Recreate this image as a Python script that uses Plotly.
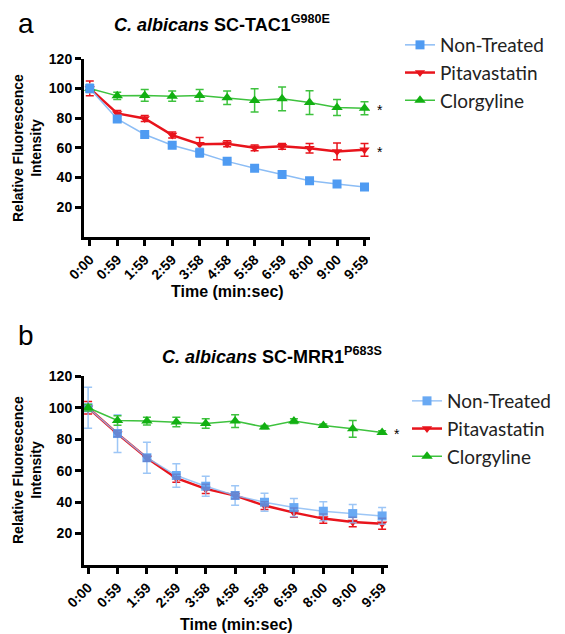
import plotly.graph_objects as go

times = ["0:00", "0:59", "1:59", "2:59", "3:58", "4:58", "5:58", "6:59", "8:00", "9:00", "9:59"]
series_names = ["Non-Treated", "Pitavastatin", "Clorgyline"]

a_non = [100, 79.5, 69, 61.8, 56.7, 50.9, 46.2, 42, 37.9, 35.6, 33.6]
a_non_err = [3, 2, 1, 1.2, 3, 1, 1, 1, 1, 1, 1]
a_pita = [100, 83.2, 79.8, 68.6, 62.5, 62.8, 60, 61, 59.7, 57.6, 58.7]
a_pita_err = [5, 2, 2, 2, 4.5, 2, 2, 2, 3.2, 5.6, 4.3]
a_clor = [100, 95, 95.3, 94.8, 95.3, 93.7, 91.9, 93, 90.5, 87.2, 86.7]
a_clor_err = [2, 2.5, 4, 3.5, 4, 4.5, 7.8, 8, 8, 5.4, 4.4]

b_non = [100, 83.6, 68.2, 56.9, 50.1, 44.2, 39.9, 36.5, 34.2, 32.7, 31.2]
b_non_err = [13, 12, 9.8, 7.5, 6.4, 6.2, 5.7, 5.8, 6, 5.8, 5.3]
b_pita = [100, 83.5, 68, 55.2, 48.4, 44.2, 37.8, 33.3, 29.5, 27.4, 26.3]
b_pita_err = [4, 2, 2, 2.5, 3, 2, 2.5, 3, 3, 3, 3.5]
b_clor = [100, 91.9, 91.5, 90.9, 90, 91.5, 87.7, 91.5, 88.7, 86.6, 84.3]
b_clor_err = [2, 3, 2.5, 3, 3, 4, 1, 1.5, 1, 5.3, 1]

y_ticks = [20, 40, 60, 80, 100, 120]

BLUE = "#4F9BF2"
BLUE_L = "#8CBDF5"
RED = "#E8141C"
GREEN = "#12B012"
GREEN_L = "#3EC23E"

W, H = 565, 634
def px(x): return x / W
def py(y): return 1 - y / H

fig = go.Figure()

def add_series(name, y, err, xa, ya, legend, style, rank, opacity=1.0):
    color, lcolor, lw, sym, msize = style
    fig.add_trace(go.Scatter(
        x=times, y=y, name=name, mode="lines+markers",
        xaxis=xa, yaxis=ya, legend=legend, legendrank=rank,
        opacity=opacity,
        line=dict(color=lcolor, width=lw),
        marker=dict(color=color, symbol=sym, size=msize, line=dict(width=0)),
        error_y=dict(type="data", array=err, visible=True, color=lcolor,
                     thickness=1.5, width=4),
    ))

st_non = (BLUE, BLUE_L, 1.5, "square", 9)
st_pita = (RED, RED, 2.5, "triangle-down", 9)
st_clor = (GREEN, GREEN_L, 1.5, "triangle-up", 10)

# Panel a
add_series("Clorgyline", a_clor, a_clor_err, "x", "y", "legend", st_clor, 3)
add_series("Pitavastatin", a_pita, a_pita_err, "x", "y", "legend", st_pita, 2)
add_series("Non-Treated", a_non, a_non_err, "x", "y", "legend", st_non, 1)
# Panel b
add_series("Pitavastatin", b_pita, b_pita_err, "x2", "y2", "legend2", st_pita, 2)
add_series("Non-Treated", b_non, b_non_err, "x2", "y2", "legend2", st_non, 1, opacity=0.85)
add_series("Clorgyline", b_clor, b_clor_err, "x2", "y2", "legend2", st_clor, 3)

axis_common = dict(
    showline=True, linecolor="black", linewidth=3, ticks="outside",
    ticklen=6, tickwidth=2.5, tickcolor="black", showgrid=False, zeroline=False,
    tickfont=dict(family="Liberation Sans", size=14, color="black", weight="bold"),
)

fig.update_layout(
    width=W, height=H, margin=dict(l=0, r=0, t=0, b=0, autoexpand=False),
    paper_bgcolor="white", plot_bgcolor="white",
    font=dict(family="Liberation Sans", color="black"),
    xaxis=dict(domain=[px(76), px(362)], anchor="y", type="category",
               range=[-0.21, 10.2], tickangle=-45, **axis_common),
    yaxis=dict(domain=[py(229), py(50.7)], anchor="x", range=[0, 120],
               tickvals=y_ticks, **axis_common),
    xaxis2=dict(domain=[px(76), px(380)], anchor="y2", type="category",
                range=[-0.14, 10.2], tickangle=-45, **axis_common),
    yaxis2=dict(domain=[py(557), py(368.3)], anchor="x2", range=[0, 120],
                tickvals=y_ticks, **axis_common),
    legend=dict(x=px(392), y=py(18), xanchor="left", yanchor="top",
                font=dict(family="Lato", size=19, color="#222"),
                bgcolor="rgba(0,0,0,0)", tracegroupgap=0, itemwidth=30),
    legend2=dict(x=px(399), y=py(374), xanchor="left", yanchor="top",
                 font=dict(family="Lato", size=19, color="#222"),
                 bgcolor="rgba(0,0,0,0)", tracegroupgap=0, itemwidth=30),
    showlegend=True,
)

ann = []
# Panel letters
ann.append(dict(x=px(8), y=py(16), xref="paper", yref="paper", text="a",
                showarrow=False, xanchor="left", yanchor="middle",
                font=dict(family="Liberation Sans", size=28, color="black")))
ann.append(dict(x=px(8), y=py(327), xref="paper", yref="paper", text="b",
                showarrow=False, xanchor="left", yanchor="middle",
                font=dict(family="Liberation Sans", size=28, color="black")))
# Titles
ann.append(dict(x=px(214), y=py(16), xref="paper", yref="paper",
                text="<b><i>C. albicans</i> SC-TAC1<sup>G980E</sup></b>",
                showarrow=False, xanchor="center", yanchor="middle",
                font=dict(family="Liberation Sans", size=18, color="black")))
ann.append(dict(x=px(264), y=py(347), xref="paper", yref="paper",
                text="<b><i>C. albicans</i> SC-MRR1<sup>P683S</sup></b>",
                showarrow=False, xanchor="center", yanchor="middle",
                font=dict(family="Liberation Sans", size=18, color="black")))
# Axis titles
for yc, xt_y, xc in [(140, 283, 219), (462, 616, 228)]:
    ann.append(dict(x=px(19), y=py(yc), xref="paper", yref="paper",
                    text="<b>Relative Fluorescence<br>Intensity</b>", textangle=-90,
                    showarrow=False, xanchor="center", yanchor="middle",
                    font=dict(family="Liberation Sans", size=14, color="black")))
    ann.append(dict(x=px(xc), y=py(xt_y), xref="paper", yref="paper",
                    text="<b>Time (min:sec)</b>",
                    showarrow=False, xanchor="center", yanchor="middle",
                    font=dict(family="Liberation Sans", size=16, color="black")))
# Significance asterisks next to last points
for xa, ya, yv in [("x", "y", a_clor[-1]), ("x", "y", a_pita[-1]), ("x2", "y2", b_clor[-1])]:
    ann.append(dict(x=times[-1], y=yv, xref=xa, yref=ya, text="*", showarrow=False,
                    xanchor="left", yanchor="middle", xshift=10, yshift=-2,
                    font=dict(family="Liberation Sans", size=14, color="black")))
fig.update_layout(annotations=ann)

fig.write_html("out.html")
